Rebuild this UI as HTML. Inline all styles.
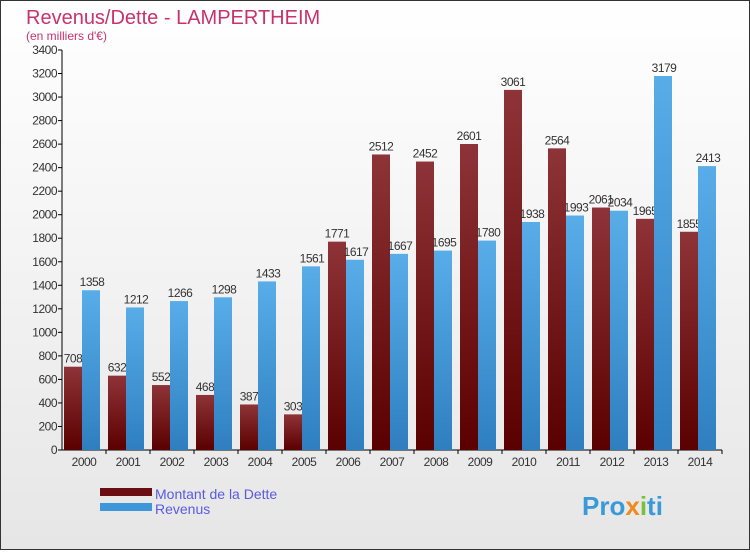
<!DOCTYPE html>
<html><head><meta charset="utf-8"><style>
body{margin:0;width:750px;height:550px;overflow:hidden;font-family:"Liberation Sans",sans-serif}
</style></head><body>
<svg width="750" height="550" xmlns="http://www.w3.org/2000/svg">
<defs>
<linearGradient id="bg" x1="0" y1="0" x2="0" y2="1"><stop offset="0" stop-color="#ffffff"/><stop offset="1" stop-color="#e6e6e6"/></linearGradient>
<linearGradient id="dg" x1="0" y1="0" x2="0" y2="1"><stop offset="0" stop-color="#8e3438"/><stop offset="1" stop-color="#5a0000"/></linearGradient>
<linearGradient id="rg" x1="0" y1="0" x2="0" y2="1"><stop offset="0" stop-color="#58ade9"/><stop offset="1" stop-color="#2f7fc0"/></linearGradient>
</defs>
<rect x="0.5" y="0.5" width="749" height="549" fill="url(#bg)" stroke="#333"/>
<text x="26" y="24" font-size="20" fill="#c8326e">Revenus/Dette - LAMPERTHEIM</text>
<text x="26" y="40" font-size="12" fill="#c8326e">(en milliers d'€)</text>
<g id="plot"></g>
<rect x="100" y="488" width="52" height="8" fill="#6a0e12"/>
<rect x="100" y="503" width="52" height="8" fill="#3e97db"/>
<text x="155" y="499" font-size="14" fill="#5a5ae0">Montant de la Dette</text>
<text x="155" y="514" font-size="14" fill="#5a5ae0">Revenus</text>
<text x="582" y="515" font-size="26" font-weight="bold" fill="#3a9ad9">Pro<tspan fill="#f08a1e">x</tspan><tspan fill="#7bbf3a">i</tspan>ti</text>
</svg>
<script>
const years=["2000","2001","2002","2003","2004","2005","2006","2007","2008","2009","2010","2011","2012","2013","2014"];
const dette=[708,632,552,468,387,303,1771,2512,2452,2601,3061,2564,2061,1965,1855];
const revenus=[1358,1212,1266,1298,1433,1561,1617,1667,1695,1780,1938,1993,2034,3179,2413];
const yTicks=[0,200,400,600,800,1000,1200,1400,1600,1800,2000,2200,2400,2600,2800,3000,3200,3400];
const NS="http://www.w3.org/2000/svg";
const g=document.getElementById('plot');
const y0=450,yTop=50,yMax=3400,x0=62,step=44;
const Y=v=>y0-(v/yMax)*(y0-yTop);
const X=i=>x0+step*i+step/2;
function mk(t,a,txt){const e=document.createElementNS(NS,t);for(const k in a)e.setAttribute(k,a[k]);if(txt!=null)e.textContent=txt;g.appendChild(e);return e;}
yTicks.forEach(v=>{
  const l=mk('line',{x1:x0-4,x2:x0,y1:Y(v),y2:Y(v),stroke:'#000'});
  
  
  const t=mk('text',{x:x0-5,y:Y(v)+4,'font-size':12,'text-anchor':'end',fill:'#333','letter-spacing':'-0.5'},v);
  
  
});
const ax=mk('line',{x1:x0,x2:x0,y1:yTop,y2:y0,stroke:'#000'});


const bx=mk('line',{x1:x0,x2:x0+step*years.length,y1:y0,y2:y0,stroke:'#000'});


years.forEach((yr,i)=>{
  const tk=mk('line',{x1:x0+step*(i+1),x2:x0+step*(i+1),y1:y0,y2:y0+4,stroke:'#000'});
  
  
  const t=mk('text',{x:X(i),y:y0+16,'font-size':12,'text-anchor':'middle',fill:'#333','letter-spacing':'-0.5'},yr);
  
  
});
years.forEach((yr,i)=>{
  const b=mk('rect',{x:X(i)-20,y:Y(dette[i]),width:18,height:y0-Y(dette[i]),fill:'url(#dg)'});
  
  
  const t=mk('text',{x:X(i)-11,y:Y(dette[i])-4,'font-size':12,'text-anchor':'middle',fill:'#333','letter-spacing':'-0.5'},dette[i]);
  
  
});
years.forEach((yr,i)=>{
  const b=mk('rect',{x:X(i)-2,y:Y(revenus[i]),width:18,height:y0-Y(revenus[i]),fill:'url(#rg)'});
  
  
  const t=mk('text',{x:X(i)+8,y:Y(revenus[i])-4,'font-size':12,'text-anchor':'middle',fill:'#333','letter-spacing':'-0.5'},revenus[i]);
  
  
});
</script>
</body></html>
